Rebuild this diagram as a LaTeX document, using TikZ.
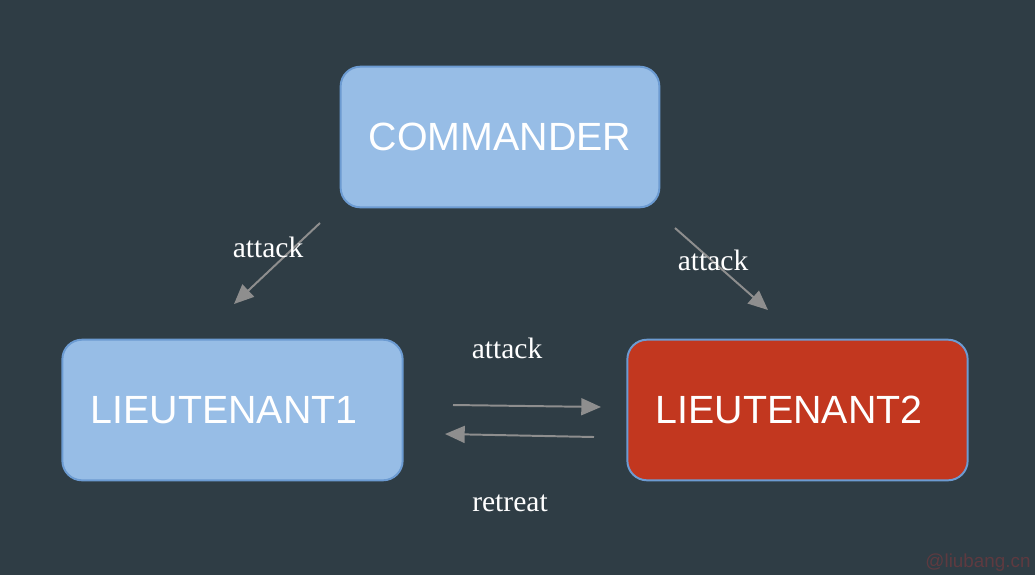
\documentclass[tikz,border=0pt]{standalone}
\usepackage{fontspec}
\setmainfont{Liberation Serif}
\setsansfont{Liberation Sans}
\usetikzlibrary{arrows.meta}
\definecolor{bg}{HTML}{2F3D45}
\definecolor{boxblue}{HTML}{97BDE6}
\definecolor{boxline}{HTML}{6C9BD2}
\definecolor{boxred}{HTML}{C2371F}
\definecolor{arrowgray}{HTML}{8E8E8E}
\definecolor{wmark}{HTML}{5E3A40}
\tikzset{
  role/.style={draw=boxline,line width=1.4pt,rounded corners=14pt,fill=boxblue,
    text=white,font=\sffamily\fontsize{28}{31}\selectfont,minimum height=100pt,inner xsep=20pt},
  msg/.style={draw=arrowgray,line width=1.4pt,-{Triangle[length=14pt,width=12pt]}},
  msglabel/.style={text=white,font=\fontsize{21}{24}\selectfont}
}
\begin{document}
\begin{tikzpicture}[x=0.025cm,y=-0.025cm]
  \fill[bg] (0,0) rectangle (1035,575);
  \useasboundingbox (0,0) rectangle (1035,575);
  \node[role,minimum width=226pt] (cmd) at (500,137) {COMMANDER};
  \node[role,text width=202pt,align=left] (lt1) at (232.5,410) {LIEUTENANT1};
  \node[role,fill=boxred,text width=202pt,align=left] (lt2) at (797.5,410) {LIEUTENANT2};
  \coordinate (a1s) at (320,223);  \coordinate (a1e) at (234,304);
  \coordinate (a2s) at (675,228);  \coordinate (a2e) at (768,310);
  \coordinate (a3s) at (453,405);  \coordinate (a3e) at (601,407);
  \coordinate (a4s) at (594,437);  \coordinate (a4e) at (445,434);
  \draw[msg] (a1s) -- (a1e);
  \draw[msg] (a2s) -- (a2e);
  \draw[msg] (a3s) -- (a3e);
  \draw[msg] (a4s) -- (a4e);
  \node[msglabel] (l1) at (268,247) {attack};
  \node[msglabel] (l2) at (713,260) {attack};
  \node[msglabel] (l3) at (507,348) {attack};
  \node[msglabel] (l4) at (510,503) {retreat};
  \node[text=wmark,font=\sffamily\fontsize{13.4}{15}\selectfont] (wm) at (978,563) {@liubang.cn};
\end{tikzpicture}
\end{document}
